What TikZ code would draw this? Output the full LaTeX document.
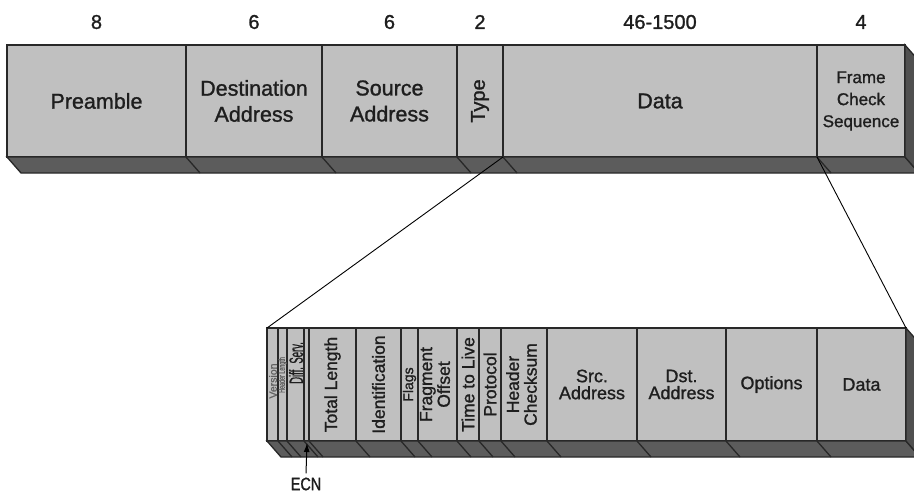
\documentclass[tikz,border=0pt]{standalone}
\usepackage{fontspec}
\setmainfont{Liberation Sans}[FakeBold=1.2]
\usepackage{graphicx}
\usetikzlibrary{arrows.meta,calc}
\definecolor{facec}{RGB}{192,192,192}
\definecolor{bandc}{RGB}{92,92,92}
\definecolor{sidec}{RGB}{80,80,80}
\definecolor{linec}{RGB}{40,40,40}
\definecolor{textc}{RGB}{30,30,30}
\begin{document}
\begin{tikzpicture}[x=1pt,y=-1pt,
  field/.style={draw=linec, fill=facec, line width=1.3pt, inner sep=0pt, outer sep=0pt, anchor=north west, text=textc, align=center},
  topfield/.style={field, minimum height=112pt, font=\fontsize{21.5}{26}\selectfont},
  lowfield/.style={field, minimum height=113pt, font=\fontsize{17.5}{17}\selectfont},
  lowhfield/.style={lowfield, font=\fontsize{18}{17}\selectfont},
  numlabel/.style={text=textc, inner sep=0pt, font=\fontsize{20}{24}\selectfont},
  smalltext/.style={text=textc, inner sep=0pt},
  bandline/.style={draw=linec, line width=1.3pt},
  conn/.style={draw=black, line width=0.9pt}]
\useasboundingbox (0,0) rectangle (914,493);
\clip (0,0) rectangle (914,493);

% ---------- top frame ----------
\node[topfield, minimum width=179pt] (pre) at (7,45) {Preamble};
\node[topfield, minimum width=136pt] (dest) at (186,45) {Destination\\Address};
\node[topfield, minimum width=135pt] (srca) at (322,45) {Source\\Address};
\node[topfield, minimum width=46pt, font=\fontsize{20}{24}\selectfont] (type) at (457,45) {\rotatebox{90}{Type}};
\node[topfield, minimum width=314pt] (data) at (503,45) {Data};
\node[topfield, minimum width=88pt, font=\fontsize{17}{22}\selectfont] (fcs) at (817,45) {Frame\\Check\\Sequence};

\filldraw[fill=bandc, bandline] (pre.south west) -- (fcs.south east) -- ++(14,16) -- ($(pre.south west)+(14,16)$) -- cycle;
\filldraw[fill=sidec, bandline] (fcs.north east) -- ++(14,16) -- ++(0,112) -- (fcs.south east) -- cycle;
\foreach \n in {pre,dest,srca,type,data}
  \draw[bandline] (\n.south east) -- ++(14,16);

\node[numlabel] (n1) at ($(pre.north)+(0,-23)$) {8};
\node[numlabel] (n2) at ($(dest.north)+(0,-23)$) {6};
\node[numlabel] (n3) at ($(srca.north)+(0,-23)$) {6};
\node[numlabel] (n4) at ($(type.north)+(0,-23)$) {2};
\node[numlabel] (n5) at ($(data.north)+(0,-23)$) {46-1500};
\node[numlabel] (n6) at ($(fcs.north)+(0,-23)$) {4};

% ---------- IP packet ----------
\node[lowfield, minimum width=11pt] (ver) at (267,328) {};
\node[lowfield, minimum width=9pt] (hl) at (278,328) {};
\node[lowfield, minimum width=17pt] (ds) at (287,328) {};
\node[lowfield, minimum width=5pt] (ecn) at (304,328) {};
\node[lowfield, minimum width=47pt] (tl) at (309,328) {\rotatebox{90}{Total Length}};
\node[lowfield, minimum width=45pt] (id) at (356,328) {\rotatebox{90}{Identification}};
\node[lowfield, minimum width=17pt, font=\fontsize{14}{15}\selectfont] (fl) at (401,328) {\rotatebox{90}{Flags}};
\node[lowfield, minimum width=39pt] (fo) at (418,328) {\rotatebox{90}{\begin{tabular}{@{}c@{}}Fragment\\Offset\end{tabular}}};
\node[lowfield, minimum width=22pt] (ttl) at (457,328) {\rotatebox{90}{Time to Live}};
\node[lowfield, minimum width=22pt] (pr) at (479,328) {\rotatebox{90}{Protocol}};
\node[lowfield, minimum width=46pt] (hc) at (501,328) {\rotatebox{90}{\begin{tabular}{@{}c@{}}Header\\Checksum\end{tabular}}};
\node[lowhfield, minimum width=90pt] (src) at (547,328) {Src.\\Address};
\node[lowhfield, minimum width=89pt] (dst) at (637,328) {Dst.\\Address};
\node[lowhfield, minimum width=91pt] (opt) at (726,328) {Options};
\node[lowhfield, minimum width=89pt] (ldat) at (817,328) {Data};

\node[smalltext, text=textc!70] (vertxt) at (273,381) {\rotatebox{90}{\fontsize{10.5}{12}\selectfont Version}};
\node[smalltext, text=textc!70] (hltxt) at (282.5,375) {\rotatebox{90}{\scalebox{0.6}[1]{\fontsize{9}{10}\selectfont Header Length}}};
\node[smalltext] (dstxt) at (296,363) {\rotatebox{90}{\scalebox{0.5}[1]{\fontsize{19}{20}\selectfont Diff. Serv.}}};

\filldraw[fill=bandc, bandline] (ver.south west) -- (ldat.south east) -- ++(14,16) -- ($(ver.south west)+(14,16)$) -- cycle;
\filldraw[fill=sidec, bandline] (ldat.north east) -- ++(14,16) -- ++(0,113) -- (ldat.south east) -- cycle;
\foreach \n in {ver,hl,ds,ecn,tl,id,fl,fo,ttl,pr,hc,src,dst,opt}
  \draw[bandline] (\n.south east) -- ++(14,16);

% ---------- ECN pointer ----------
\node[smalltext] (ecnlbl) at (306,484) {\scalebox{0.8}[1]{\fontsize{18}{20}\selectfont ECN}};
\draw[black, line width=1pt, -{Latex[length=9pt,width=6pt]}] ($(ecnlbl.north)+(0,-4)$) -- ($(ecn.south)+(0.5,2)$);

% ---------- connectors ----------
\draw[conn] (type.south east) -- (ver.north west);
\draw[conn] (fcs.south west) -- (ldat.north east);
\end{tikzpicture}
\end{document}
